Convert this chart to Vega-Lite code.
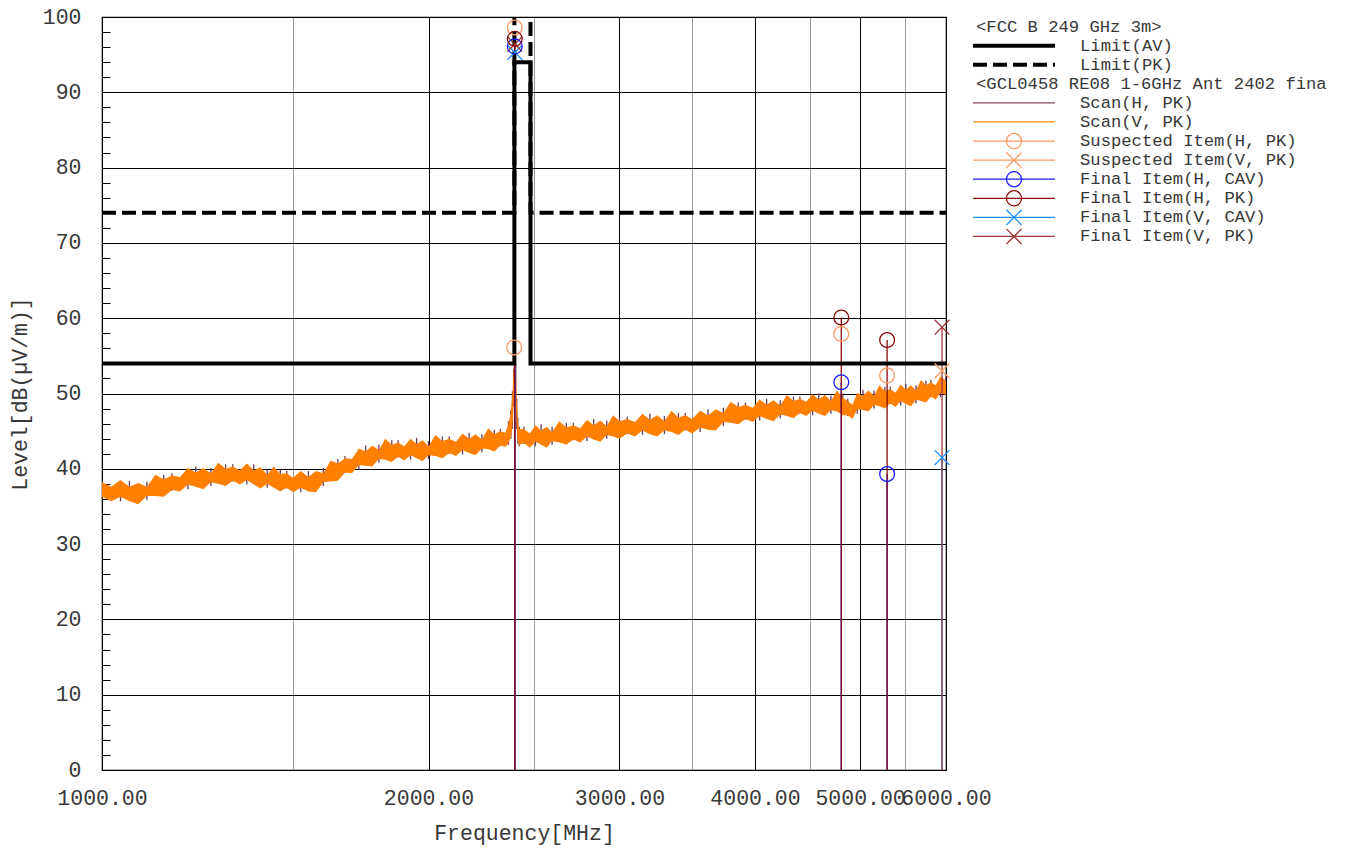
{
  "$schema": "https://vega.github.io/schema/vega-lite/v6.json",
  "background": "white",
  "padding": {"left": 8, "top": 5, "right": 5, "bottom": 4},
  "config": {
    "font": "Liberation Mono",
    "view": {"stroke": "black", "strokeWidth": 1.2},
    "concat": {"spacing": 27}
  },
  "bounds": "flush",
  "datasets": {
    "scan": [
      {"f":1000,"vlo":36.3,"vhi":38.2,"hlo":36.2,"hhi":38.5},
      {"f":1020,"vlo":35.7,"vhi":37.6,"hlo":35.9,"hhi":37.5},
      {"f":1040,"vlo":36.3,"vhi":38.5,"hlo":35.7,"hhi":38.2},
      {"f":1060,"vlo":35.7,"vhi":37.6,"hlo":35.9,"hhi":38.4},
      {"f":1080,"vlo":35.3,"vhi":38.1,"hlo":35.5,"hhi":37.8},
      {"f":1100,"vlo":36.4,"vhi":37.6,"hlo":35.9,"hhi":38.3},
      {"f":1120,"vlo":36.4,"vhi":39.2,"hlo":36.5,"hhi":39.0},
      {"f":1140,"vlo":36.3,"vhi":38.6,"hlo":36.5,"hhi":39.2},
      {"f":1160,"vlo":37.2,"vhi":39.1,"hlo":37.1,"hhi":39.4},
      {"f":1180,"vlo":37.0,"vhi":38.9,"hlo":37.2,"hhi":38.8},
      {"f":1200,"vlo":37.9,"vhi":40.1,"hlo":37.3,"hhi":39.8},
      {"f":1220,"vlo":37.6,"vhi":39.5,"hlo":37.8,"hhi":40.3},
      {"f":1240,"vlo":37.3,"vhi":40.1,"hlo":37.5,"hhi":39.8},
      {"f":1260,"vlo":38.2,"vhi":39.4,"hlo":37.7,"hhi":40.1},
      {"f":1280,"vlo":38.0,"vhi":40.8,"hlo":38.1,"hhi":40.6},
      {"f":1300,"vlo":37.7,"vhi":40.0,"hlo":37.9,"hhi":40.6},
      {"f":1320,"vlo":38.4,"vhi":40.3,"hlo":38.3,"hhi":40.6},
      {"f":1340,"vlo":37.9,"vhi":39.8,"hlo":38.1,"hhi":39.7},
      {"f":1360,"vlo":38.5,"vhi":40.7,"hlo":37.9,"hhi":40.4},
      {"f":1380,"vlo":37.9,"vhi":39.8,"hlo":38.1,"hhi":40.6},
      {"f":1400,"vlo":37.4,"vhi":40.2,"hlo":37.6,"hhi":39.9},
      {"f":1420,"vlo":38.0,"vhi":39.2,"hlo":37.5,"hhi":39.9},
      {"f":1440,"vlo":37.5,"vhi":40.3,"hlo":37.6,"hhi":40.1},
      {"f":1460,"vlo":37.0,"vhi":39.3,"hlo":37.2,"hhi":39.9},
      {"f":1480,"vlo":37.5,"vhi":39.4,"hlo":37.4,"hhi":39.7},
      {"f":1500,"vlo":36.9,"vhi":38.8,"hlo":37.1,"hhi":38.7},
      {"f":1525,"vlo":37.5,"vhi":39.7,"hlo":36.9,"hhi":39.4},
      {"f":1550,"vlo":37.0,"vhi":38.9,"hlo":37.2,"hhi":39.7},
      {"f":1575,"vlo":36.9,"vhi":39.7,"hlo":37.1,"hhi":39.4},
      {"f":1600,"vlo":38.2,"vhi":39.4,"hlo":37.7,"hhi":40.1},
      {"f":1625,"vlo":38.3,"vhi":41.1,"hlo":38.4,"hhi":40.9},
      {"f":1650,"vlo":38.4,"vhi":40.7,"hlo":38.6,"hhi":41.3},
      {"f":1675,"vlo":39.5,"vhi":41.4,"hlo":39.4,"hhi":41.7},
      {"f":1700,"vlo":39.4,"vhi":41.3,"hlo":39.6,"hhi":41.2},
      {"f":1725,"vlo":40.5,"vhi":42.7,"hlo":39.9,"hhi":42.4},
      {"f":1750,"vlo":40.4,"vhi":42.3,"hlo":40.6,"hhi":43.1},
      {"f":1775,"vlo":40.3,"vhi":43.1,"hlo":40.5,"hhi":42.8},
      {"f":1800,"vlo":41.3,"vhi":42.5,"hlo":40.8,"hhi":43.2},
      {"f":1825,"vlo":41.2,"vhi":44.0,"hlo":41.3,"hhi":43.8},
      {"f":1850,"vlo":40.9,"vhi":43.2,"hlo":41.1,"hhi":43.8},
      {"f":1875,"vlo":41.6,"vhi":43.5,"hlo":41.5,"hhi":43.8},
      {"f":1900,"vlo":41.1,"vhi":43.0,"hlo":41.3,"hhi":42.9},
      {"f":1925,"vlo":41.8,"vhi":44.0,"hlo":41.2,"hhi":43.7},
      {"f":1950,"vlo":41.4,"vhi":43.3,"hlo":41.6,"hhi":44.1},
      {"f":1975,"vlo":41.0,"vhi":43.8,"hlo":41.2,"hhi":43.5},
      {"f":2000,"vlo":41.8,"vhi":43.0,"hlo":41.3,"hhi":43.7},
      {"f":2030,"vlo":41.7,"vhi":44.5,"hlo":41.8,"hhi":44.3},
      {"f":2060,"vlo":41.4,"vhi":43.7,"hlo":41.6,"hhi":44.3},
      {"f":2090,"vlo":42.1,"vhi":44.0,"hlo":42.0,"hhi":44.3},
      {"f":2120,"vlo":41.7,"vhi":43.6,"hlo":41.9,"hhi":43.5},
      {"f":2150,"vlo":42.5,"vhi":44.7,"hlo":41.9,"hhi":44.4},
      {"f":2180,"vlo":42.1,"vhi":44.0,"hlo":42.3,"hhi":44.8},
      {"f":2210,"vlo":41.8,"vhi":44.6,"hlo":42.0,"hhi":44.3},
      {"f":2240,"vlo":42.7,"vhi":43.9,"hlo":42.2,"hhi":44.6},
      {"f":2270,"vlo":42.6,"vhi":45.4,"hlo":42.7,"hhi":45.2},
      {"f":2300,"vlo":42.3,"vhi":44.6,"hlo":42.5,"hhi":45.2},
      {"f":2330,"vlo":43.1,"vhi":45.0,"hlo":43.0,"hhi":45.3},
      {"f":2355,"vlo":42.9,"vhi":44.8,"hlo":43.1,"hhi":44.7},
      {"f":2370,"vlo":43.4,"vhi":46.0,"hlo":43.2,"hhi":46.3},
      {"f":2382,"vlo":44.2,"vhi":47.5,"hlo":44.0,"hhi":47.8},
      {"f":2390,"vlo":45.5,"vhi":50.0,"hlo":45.3,"hhi":50.3},
      {"f":2396,"vlo":48.5,"vhi":53.0,"hlo":48.3,"hhi":53.2},
      {"f":2400,"vlo":51.5,"vhi":55.0,"hlo":51.3,"hhi":55.3},
      {"f":2403,"vlo":52.5,"vhi":55.8,"hlo":52.3,"hhi":56.0},
      {"f":2407,"vlo":49.5,"vhi":53.5,"hlo":49.3,"hhi":53.8},
      {"f":2412,"vlo":45.5,"vhi":49.0,"hlo":45.3,"hhi":49.3},
      {"f":2418,"vlo":43.5,"vhi":46.5,"hlo":43.3,"hhi":46.8},
      {"f":2425,"vlo":43.2,"vhi":45.3,"hlo":43.0,"hhi":45.6},
      {"f":2450,"vlo":43.4,"vhi":45.3,"hlo":43.3,"hhi":45.6},
      {"f":2480,"vlo":42.8,"vhi":44.7,"hlo":43.0,"hhi":44.6},
      {"f":2510,"vlo":43.6,"vhi":45.8,"hlo":43.0,"hhi":45.5},
      {"f":2540,"vlo":43.2,"vhi":45.1,"hlo":43.4,"hhi":45.9},
      {"f":2570,"vlo":42.8,"vhi":45.6,"hlo":43.0,"hhi":45.3},
      {"f":2600,"vlo":43.7,"vhi":44.9,"hlo":43.2,"hhi":45.6},
      {"f":2640,"vlo":43.5,"vhi":46.3,"hlo":43.6,"hhi":46.1},
      {"f":2680,"vlo":43.2,"vhi":45.5,"hlo":43.4,"hhi":46.1},
      {"f":2720,"vlo":43.9,"vhi":45.8,"hlo":43.8,"hhi":46.1},
      {"f":2760,"vlo":43.5,"vhi":45.4,"hlo":43.7,"hhi":45.3},
      {"f":2800,"vlo":44.3,"vhi":46.5,"hlo":43.7,"hhi":46.2},
      {"f":2840,"vlo":43.9,"vhi":45.8,"hlo":44.1,"hhi":46.6},
      {"f":2880,"vlo":43.6,"vhi":46.4,"hlo":43.8,"hhi":46.1},
      {"f":2920,"vlo":44.5,"vhi":45.7,"hlo":44.0,"hhi":46.4},
      {"f":2960,"vlo":44.3,"vhi":47.1,"hlo":44.4,"hhi":46.9},
      {"f":3000,"vlo":44.0,"vhi":46.3,"hlo":44.2,"hhi":46.9},
      {"f":3050,"vlo":44.7,"vhi":46.6,"hlo":44.6,"hhi":46.9},
      {"f":3100,"vlo":44.3,"vhi":46.2,"hlo":44.5,"hhi":46.1},
      {"f":3150,"vlo":45.1,"vhi":47.3,"hlo":44.5,"hhi":47.0},
      {"f":3200,"vlo":44.6,"vhi":46.5,"hlo":44.8,"hhi":47.3},
      {"f":3250,"vlo":44.3,"vhi":47.1,"hlo":44.5,"hhi":46.8},
      {"f":3300,"vlo":45.1,"vhi":46.3,"hlo":44.6,"hhi":47.0},
      {"f":3350,"vlo":44.9,"vhi":47.7,"hlo":45.0,"hhi":47.5},
      {"f":3400,"vlo":44.5,"vhi":46.8,"hlo":44.7,"hhi":47.4},
      {"f":3450,"vlo":45.2,"vhi":47.1,"hlo":45.1,"hhi":47.4},
      {"f":3500,"vlo":44.7,"vhi":46.6,"hlo":44.9,"hhi":46.5},
      {"f":3560,"vlo":45.5,"vhi":47.7,"hlo":44.9,"hhi":47.4},
      {"f":3620,"vlo":45.2,"vhi":47.1,"hlo":45.4,"hhi":47.9},
      {"f":3680,"vlo":45.1,"vhi":47.9,"hlo":45.3,"hhi":47.6},
      {"f":3740,"vlo":46.2,"vhi":47.4,"hlo":45.7,"hhi":48.1},
      {"f":3800,"vlo":46.1,"vhi":48.9,"hlo":46.2,"hhi":48.7},
      {"f":3860,"vlo":45.9,"vhi":48.2,"hlo":46.1,"hhi":48.8},
      {"f":3920,"vlo":46.6,"vhi":48.5,"hlo":46.5,"hhi":48.8},
      {"f":3980,"vlo":46.2,"vhi":48.1,"hlo":46.4,"hhi":48.0},
      {"f":4040,"vlo":47.0,"vhi":49.2,"hlo":46.4,"hhi":48.9},
      {"f":4100,"vlo":46.6,"vhi":48.5,"hlo":46.8,"hhi":49.3},
      {"f":4160,"vlo":46.3,"vhi":49.1,"hlo":46.5,"hhi":48.8},
      {"f":4220,"vlo":47.2,"vhi":48.4,"hlo":46.7,"hhi":49.1},
      {"f":4280,"vlo":47.0,"vhi":49.8,"hlo":47.1,"hhi":49.6},
      {"f":4340,"vlo":46.7,"vhi":49.0,"hlo":46.9,"hhi":49.6},
      {"f":4400,"vlo":47.4,"vhi":49.3,"hlo":47.3,"hhi":49.6},
      {"f":4460,"vlo":47.0,"vhi":48.9,"hlo":47.2,"hhi":48.8},
      {"f":4520,"vlo":47.7,"vhi":49.9,"hlo":47.1,"hhi":49.6},
      {"f":4580,"vlo":47.3,"vhi":49.2,"hlo":47.5,"hhi":50.0},
      {"f":4640,"vlo":47.0,"vhi":49.8,"hlo":47.2,"hhi":49.5},
      {"f":4700,"vlo":47.8,"vhi":49.0,"hlo":47.3,"hhi":49.7},
      {"f":4760,"vlo":47.6,"vhi":50.4,"hlo":47.7,"hhi":50.2},
      {"f":4820,"vlo":47.1,"vhi":49.4,"hlo":47.3,"hhi":50.0},
      {"f":4870,"vlo":47.1,"vhi":49.0,"hlo":47.0,"hhi":49.3},
      {"f":4920,"vlo":46.6,"vhi":48.5,"hlo":46.8,"hhi":48.4},
      {"f":4970,"vlo":47.9,"vhi":50.1,"hlo":47.3,"hhi":49.8},
      {"f":5030,"vlo":47.8,"vhi":49.7,"hlo":48.0,"hhi":50.5},
      {"f":5090,"vlo":47.6,"vhi":50.4,"hlo":47.8,"hhi":50.1},
      {"f":5150,"vlo":48.5,"vhi":49.7,"hlo":48.0,"hhi":50.4},
      {"f":5210,"vlo":48.3,"vhi":51.1,"hlo":48.4,"hhi":50.9},
      {"f":5270,"vlo":48.0,"vhi":50.3,"hlo":48.2,"hhi":50.9},
      {"f":5330,"vlo":48.7,"vhi":50.6,"hlo":48.6,"hhi":50.9},
      {"f":5390,"vlo":48.2,"vhi":50.1,"hlo":48.4,"hhi":50.0},
      {"f":5450,"vlo":49.0,"vhi":51.2,"hlo":48.4,"hhi":50.9},
      {"f":5510,"vlo":48.6,"vhi":50.5,"hlo":48.8,"hhi":51.3},
      {"f":5570,"vlo":48.3,"vhi":51.1,"hlo":48.5,"hhi":50.8},
      {"f":5630,"vlo":49.2,"vhi":50.4,"hlo":48.7,"hhi":51.1},
      {"f":5690,"vlo":49.0,"vhi":51.8,"hlo":49.1,"hhi":51.6},
      {"f":5750,"vlo":48.8,"vhi":51.1,"hlo":49.0,"hhi":51.7},
      {"f":5810,"vlo":49.6,"vhi":51.5,"hlo":49.5,"hhi":51.8},
      {"f":5870,"vlo":49.2,"vhi":51.1,"hlo":49.4,"hhi":51.0},
      {"f":5930,"vlo":50.1,"vhi":52.3,"hlo":49.5,"hhi":52.0},
      {"f":6000,"vlo":49.8,"vhi":51.7,"hlo":50.0,"hhi":52.5}
    ],
    "limits": [
      {"i":0,"limit":"Limit(AV)","f":1000,"v":54},
      {"i":1,"limit":"Limit(AV)","f":2400,"v":54},
      {"i":2,"limit":"Limit(AV)","f":2400,"v":94},
      {"i":3,"limit":"Limit(AV)","f":2483.5,"v":94},
      {"i":4,"limit":"Limit(AV)","f":2483.5,"v":54},
      {"i":5,"limit":"Limit(AV)","f":6000,"v":54},
      {"i":0,"limit":"Limit(PK)","f":1000,"v":74},
      {"i":1,"limit":"Limit(PK)","f":2400,"v":74},
      {"i":2,"limit":"Limit(PK)","f":2400,"v":114},
      {"i":3,"limit":"Limit(PK)","f":2483.5,"v":114},
      {"i":4,"limit":"Limit(PK)","f":2483.5,"v":74},
      {"i":5,"limit":"Limit(PK)","f":6000,"v":74}
    ],
    "items": [
      {"item":"Suspected Item(H, PK)","f":2402,"v":98.6,"final":false},
      {"item":"Suspected Item(H, PK)","f":2399,"v":56.1,"final":false},
      {"item":"Suspected Item(H, PK)","f":4804,"v":57.9,"final":false},
      {"item":"Suspected Item(H, PK)","f":5295,"v":52.4,"final":false},
      {"item":"Suspected Item(V, PK)","f":5950,"v":53.0,"final":false},
      {"item":"Final Item(V, CAV)","f":2402,"v":95.3,"final":true},
      {"item":"Final Item(V, CAV)","f":5950,"v":41.5,"final":true},
      {"item":"Final Item(V, PK)","f":2402,"v":96.4,"final":true},
      {"item":"Final Item(V, PK)","f":5950,"v":58.8,"final":true},
      {"item":"Final Item(H, CAV)","f":2402,"v":96.1,"final":true},
      {"item":"Final Item(H, CAV)","f":4804,"v":51.5,"final":true},
      {"item":"Final Item(H, CAV)","f":5295,"v":39.3,"final":true},
      {"item":"Final Item(H, PK)","f":2402,"v":97.1,"final":true},
      {"item":"Final Item(H, PK)","f":4804,"v":60.1,"final":true},
      {"item":"Final Item(H, PK)","f":5295,"v":57.1,"final":true}
    ],
    "legendrows": [
      {"i":0,"name":"<FCC B 249 GHz 3m>","kind":"header"},
      {"i":1,"name":"Limit(AV)","kind":"limit"},
      {"i":2,"name":"Limit(PK)","kind":"limit"},
      {"i":3,"name":"<GCL0458 RE08 1-6GHz Ant 2402 fina","kind":"header"},
      {"i":4,"name":"Scan(H, PK)","kind":"scan"},
      {"i":5,"name":"Scan(V, PK)","kind":"scan"},
      {"i":6,"name":"Suspected Item(H, PK)","kind":"item"},
      {"i":7,"name":"Suspected Item(V, PK)","kind":"item"},
      {"i":8,"name":"Final Item(H, CAV)","kind":"item"},
      {"i":9,"name":"Final Item(H, PK)","kind":"item"},
      {"i":10,"name":"Final Item(V, CAV)","kind":"item"},
      {"i":11,"name":"Final Item(V, PK)","kind":"item"}
    ]
  },
  "hconcat": [
    {
      "width": 844,
      "height": 753,
      "layer": [
        {
          "data": {"name": "scan"},
          "mark": {"type": "rule", "color": "#6e3a5c", "strokeWidth": 1.3, "clip": true},
          "encoding": {
            "x": {"field": "f", "type": "quantitative",
              "scale": {"type": "log", "domain": [1000, 6000], "nice": false},
              "axis": {
                "values": [1000,1500,2000,2500,3000,3500,4000,4500,5000,5500,6000],
                "tickCount": 50,
                "labelExpr": "datum.value % 1000 === 0 ? format(datum.value, '.2f') : ''",
                "labelOverlap": false, "labelBound": false, "labelFlush": false,
                "ticks": false, "domain": false,
                "grid": true,
                "gridColor": {"condition": {"test": "datum.value % 1000 === 0", "value": "#000000"}, "value": "#9a9a9a"},
                "gridWidth": 1, "gridOpacity": 1,
                "labelFont": "Liberation Mono", "labelFontSize": 21.5, "labelColor": "#383838",
                "labelPadding": 17,
                "title": "Frequency[MHz]", "titleFont": "Liberation Mono", "titleFontSize": 21.5,
                "titleFontWeight": "normal", "titleColor": "#383838", "titlePadding": 14
              }
            },
            "y": {"field": "hlo", "type": "quantitative",
              "scale": {"domain": [0, 100], "nice": false},
              "axis": {
                "values": [0,2,4,6,8,10,12,14,16,18,20,22,24,26,28,30,32,34,36,38,40,42,44,46,48,50,52,54,56,58,60,62,64,66,68,70,72,74,76,78,80,82,84,86,88,90,92,94,96,98,100],
                "tickCount": 200,
                "labelExpr": "datum.value % 10 === 0 ? format(datum.value, 'd') : ''",
                "grid": true,
                "gridColor": {"condition": {"test": "datum.value % 10 === 0", "value": "#000000"}, "value": "transparent"},
                "gridWidth": 1, "gridOpacity": 1,
                "ticks": true, "tickSize": -8, "tickColor": "#000000", "tickWidth": 1,
                "domain": false, "labelOverlap": false, "labelFlush": false, "labelBound": false,
                "labelFont": "Liberation Mono", "labelFontSize": 21.5, "labelColor": "#383838",
                "labelPadding": 29,
                "title": "Level[dB(µV/m)]", "titleFont": "Liberation Mono", "titleFontSize": 21.5,
                "titleFontWeight": "normal", "titleColor": "#383838", "titlePadding": 11
              }
            },
            "y2": {"field": "hhi"}
          }
        },
        {
          "data": {"name": "scan"},
          "mark": {"type": "area", "color": "#ff8000", "clip": true},
          "encoding": {
            "x": {"field": "f", "type": "quantitative"},
            "y": {"field": "vlo", "type": "quantitative"},
            "y2": {"field": "vhi"}
          }
        },
        {
          "data": {"name": "items"},
          "transform": [{"filter": "datum.final"}],
          "mark": {"type": "rule", "strokeWidth": 1.3},
          "encoding": {
            "x": {"field": "f", "type": "quantitative"},
            "y": {"field": "v", "type": "quantitative"},
            "y2": {"datum": 0},
            "color": {"field": "item", "type": "nominal", "legend": null,
              "scale": {
                "domain": ["Scan(H, PK)","Scan(V, PK)","Suspected Item(H, PK)","Suspected Item(V, PK)","Final Item(H, CAV)","Final Item(H, PK)","Final Item(V, CAV)","Final Item(V, PK)"],
                "range": ["#8a4a55","#ff8c00","#ff9a66","#ff9a66","#1a1aff","#8b0a0a","#1e90ff","#a03535"]
              }
            },
            "opacity": {"field": "item", "type": "nominal", "legend": null,
              "scale": {
                "domain": ["Final Item(V, CAV)","Final Item(H, CAV)","Final Item(V, PK)","Final Item(H, PK)"],
                "range": [1, 1, 1, 0.55]
              }
            }
          }
        },
        {
          "data": {"name": "limits"},
          "mark": {"type": "line", "color": "#000000", "strokeWidth": 4, "clip": true},
          "encoding": {
            "x": {"field": "f", "type": "quantitative"},
            "y": {"field": "v", "type": "quantitative"},
            "order": {"field": "i", "type": "quantitative"},
            "strokeDash": {"field": "limit", "type": "nominal", "legend": null,
              "scale": {"domain": ["Limit(AV)", "Limit(PK)"], "range": [[1, 0], [14, 6]]}}
          }
        },
        {
          "data": {"name": "items"},
          "mark": {"type": "point", "filled": false, "strokeWidth": 1.3, "size": 220, "opacity": 1},
          "encoding": {
            "x": {"field": "f", "type": "quantitative"},
            "y": {"field": "v", "type": "quantitative"},
            "color": {"field": "item", "type": "nominal", "legend": null},
            "shape": {"field": "item", "type": "nominal", "legend": null,
              "scale": {
                "domain": ["Suspected Item(H, PK)","Suspected Item(V, PK)","Final Item(H, CAV)","Final Item(H, PK)","Final Item(V, CAV)","Final Item(V, PK)"],
                "range": ["circle","M-1,-1L1,1M-1,1L1,-1","circle","circle","M-1,-1L1,1M-1,1L1,-1","M-1,-1L1,1M-1,1L1,-1"]
              }
            }
          }
        }
      ]
    },
    {
      "width": 360,
      "height": 229,
      "view": {"stroke": "transparent"},
      "data": {"name": "legendrows"},
      "layer": [
        {
          "transform": [{"filter": "datum.kind === 'limit'"}],
          "mark": {"type": "rule", "strokeWidth": 4, "color": "#000000"},
          "encoding": {
            "x": {"datum": 0, "type": "quantitative", "scale": {"domain": [0, 360], "nice": false}, "axis": null},
            "x2": {"datum": 82},
            "y": {"field": "i", "type": "quantitative", "scale": {"domain": [-0.5, 11.5], "reverse": true, "nice": false, "zero": false}, "axis": null},
            "strokeDash": {"field": "name", "type": "nominal", "legend": null}
          }
        },
        {
          "transform": [{"filter": "datum.kind === 'scan' || datum.kind === 'item'"}],
          "mark": {"type": "rule", "strokeWidth": 1.3},
          "encoding": {
            "x": {"datum": 0, "type": "quantitative", "axis": null},
            "x2": {"datum": 82},
            "y": {"field": "i", "type": "quantitative", "axis": null},
            "color": {"field": "name", "type": "nominal", "legend": null}
          }
        },
        {
          "transform": [{"filter": "datum.kind === 'item'"}],
          "mark": {"type": "point", "filled": false, "strokeWidth": 1.3, "size": 230, "opacity": 1},
          "encoding": {
            "x": {"datum": 41, "type": "quantitative", "axis": null},
            "y": {"field": "i", "type": "quantitative", "axis": null},
            "color": {"field": "name", "type": "nominal", "legend": null},
            "shape": {"field": "name", "type": "nominal", "legend": null}
          }
        },
        {
          "transform": [{"filter": "datum.kind === 'header'"}],
          "mark": {"type": "text", "align": "left", "baseline": "middle", "font": "Liberation Mono", "fontSize": 17.2, "color": "#383838"},
          "encoding": {
            "x": {"datum": 3, "type": "quantitative", "axis": null},
            "y": {"field": "i", "type": "quantitative", "axis": null},
            "text": {"field": "name", "type": "nominal"}
          }
        },
        {
          "transform": [{"filter": "datum.kind !== 'header'"}],
          "mark": {"type": "text", "align": "left", "baseline": "middle", "font": "Liberation Mono", "fontSize": 17.2, "color": "#383838"},
          "encoding": {
            "x": {"datum": 107, "type": "quantitative", "axis": null},
            "y": {"field": "i", "type": "quantitative", "axis": null},
            "text": {"field": "name", "type": "nominal"}
          }
        }
      ]
    }
  ]
}
